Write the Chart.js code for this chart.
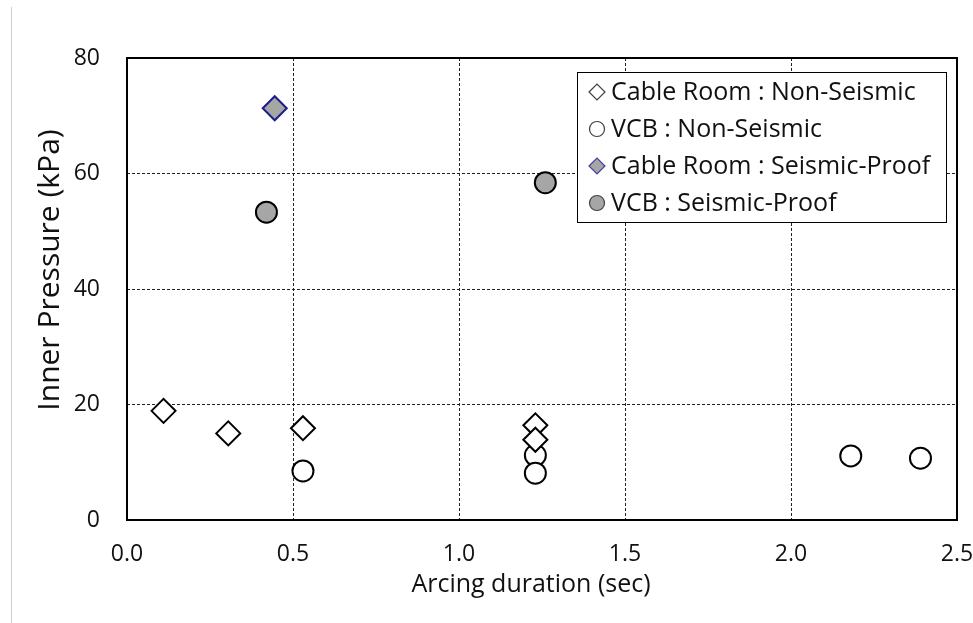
<!DOCTYPE html>
<html>
<head>
<meta charset="utf-8">
<script src="https://cdn.jsdelivr.net/npm/chart.js@4/dist/chart.umd.min.js"></script>
<style>
  html, body { margin: 0; padding: 0; background: #fff; }
  canvas { display: block; }
</style>
</head>
<body>
<canvas id="chart" width="973" height="623"></canvas>
<script>
// Arcing duration (sec) and inner pressure (kPa) per test group
const cableNonSeismicX = [0.11, 0.305, 0.53, 1.23, 1.23];
const cableNonSeismicY = [18.9, 15.0, 15.9, 16.4, 13.9];
const vcbNonSeismicX   = [0.53, 1.23, 1.23, 2.18, 2.39];
const vcbNonSeismicY   = [8.5, 11.2, 8.1, 11.1, 10.7];
const cableSeismicX    = [0.445];
const cableSeismicY    = [71.3];
const vcbSeismicX      = [0.42, 1.26];
const vcbSeismicY      = [53.3, 58.4];

const seriesNames = [
  'Cable Room : Non-Seismic',
  'VCB : Non-Seismic',
  'Cable Room : Seismic-Proof',
  'VCB : Seismic-Proof'
];
const xTicks = [0, 0.5, 1.0, 1.5, 2.0, 2.5];
const yTicks = [0, 20, 40, 60, 80];
const xTitle = 'Arcing duration (sec)';
const yTitle = 'Inner Pressure (kPa)';

const FONT = '"Open Sans", Lato, sans-serif';
const TEXT = '#111111';

function pts(xs, ys) { return xs.map((x, i) => ({ x: x, y: ys[i] })); }

const styles = [
  { pointStyle: 'rectRot', backgroundColor: '#ffffff', borderColor: '#000000', radius: 12, legendBorder: '#404040', legendR: 8 },
  { pointStyle: 'circle',  backgroundColor: '#ffffff', borderColor: '#000000', radius: 10.5, legendBorder: '#404040', legendR: 7.5 },
  { pointStyle: 'rectRot', backgroundColor: '#a6a6a6', borderColor: '#1c1c8c', radius: 12, legendBorder: '#4040a8', legendR: 8 },
  { pointStyle: 'circle',  backgroundColor: '#a6a6a6', borderColor: '#000000', radius: 10.5, legendBorder: '#404040', legendR: 7.5 }
];
const seriesData = [
  pts(cableNonSeismicX, cableNonSeismicY),
  pts(vcbNonSeismicX, vcbNonSeismicY),
  pts(cableSeismicX, cableSeismicY),
  pts(vcbSeismicX, vcbSeismicY)
];

const datasets = seriesNames.map((name, i) => ({
  label: name,
  data: seriesData[i],
  pointStyle: styles[i].pointStyle,
  pointRadius: styles[i].radius,
  pointHoverRadius: styles[i].radius,
  pointBackgroundColor: styles[i].backgroundColor,
  pointBorderColor: styles[i].borderColor,
  pointBorderWidth: 2,
  showLine: false
}));

function markerPath(ctx, style, x, y, r) {
  ctx.beginPath();
  if (style === 'rectRot') {
    ctx.moveTo(x - r, y);
    ctx.lineTo(x, y - r);
    ctx.lineTo(x + r, y);
    ctx.lineTo(x, y + r);
    ctx.closePath();
  } else {
    ctx.arc(x, y, r, 0, Math.PI * 2);
  }
}

// Page background, plot frame, axis titles and the boxed legend inside the plot
const decorations = {
  id: 'decorations',
  beforeDraw(chart) {
    const ctx = chart.ctx;
    ctx.save();
    ctx.fillStyle = '#ffffff';
    ctx.fillRect(0, 0, chart.width, chart.height);
    ctx.strokeStyle = '#cfcfcf';
    ctx.lineWidth = 1;
    ctx.beginPath();
    ctx.moveTo(11.5, 7);
    ctx.lineTo(11.5, chart.height);
    ctx.stroke();
    ctx.restore();
  },
  beforeDatasetsDraw(chart) {
    const ctx = chart.ctx;
    const a = chart.chartArea;
    ctx.save();
    ctx.strokeStyle = '#000000';
    ctx.lineWidth = 2;
    ctx.strokeRect(a.left, a.top, a.right - a.left, a.bottom - a.top);
    ctx.restore();
  },
  afterDraw(chart) {
    const ctx = chart.ctx;
    ctx.save();
    ctx.fillStyle = TEXT;
    ctx.textAlign = 'center';
    ctx.textBaseline = 'middle';
    ctx.font = '25px ' + FONT;
    ctx.fillText(xTitle, 531, 585);
    ctx.font = '30px ' + FONT;
    ctx.translate(50, 270);
    ctx.rotate(-Math.PI / 2);
    ctx.fillText(yTitle, 0, 0);
    ctx.restore();

    // legend
    ctx.save();
    const bx = 577.5, by = 72.5, bw = 369, bh = 150;
    ctx.fillStyle = '#ffffff';
    ctx.fillRect(bx, by, bw, bh);
    ctx.strokeStyle = '#000000';
    ctx.lineWidth = 1;
    ctx.strokeRect(bx, by, bw, bh);
    const rowY = [92, 129, 166, 203];
    seriesNames.forEach((name, i) => {
      const s = styles[i];
      markerPath(ctx, s.pointStyle, 597, rowY[i], s.legendR);
      ctx.fillStyle = s.backgroundColor;
      ctx.fill();
      ctx.strokeStyle = s.legendBorder;
      ctx.lineWidth = 1.2;
      ctx.stroke();
      ctx.fillStyle = TEXT;
      ctx.font = '25px ' + FONT;
      ctx.textAlign = 'left';
      ctx.textBaseline = 'middle';
      ctx.fillText(name, 611, rowY[i] + 1);
    });
    ctx.restore();
  }
};

new Chart(document.getElementById('chart'), {
  type: 'scatter',
  data: { datasets: datasets },
  options: {
    responsive: false,
    animation: false,
    events: [],
    layout: { padding: { top: 58, right: 16, left: 0, bottom: 0 } },
    plugins: {
      legend: { display: false },
      tooltip: { enabled: false }
    },
    scales: {
      x: {
        type: 'linear',
        min: 0,
        max: 2.5,
        afterBuildTicks(scale) { scale.ticks = xTicks.map(v => ({ value: v })); },
        afterFit(scale) { scale.height = 103; scale.paddingLeft = 0; scale.paddingRight = 0; },
        ticks: {
          font: { family: FONT, size: 23 },
          color: TEXT,
          padding: 21,
          maxRotation: 0,
          callback: v => Number(v).toFixed(1)
        },
        grid: { color: '#222222', lineWidth: 1, drawTicks: false },
        border: { display: false, dash: [3, 2] }
      },
      y: {
        type: 'linear',
        min: 0,
        max: 80,
        afterBuildTicks(scale) { scale.ticks = yTicks.map(v => ({ value: v })); },
        afterFit(scale) { scale.width = 127; scale.paddingTop = 0; scale.paddingBottom = 0; },
        ticks: {
          font: { family: FONT, size: 23 },
          color: TEXT,
          padding: 27
        },
        grid: { color: '#222222', lineWidth: 1, drawTicks: false },
        border: { display: false, dash: [3, 2] }
      }
    }
  },
  plugins: [decorations]
});
</script>
</body>
</html>
